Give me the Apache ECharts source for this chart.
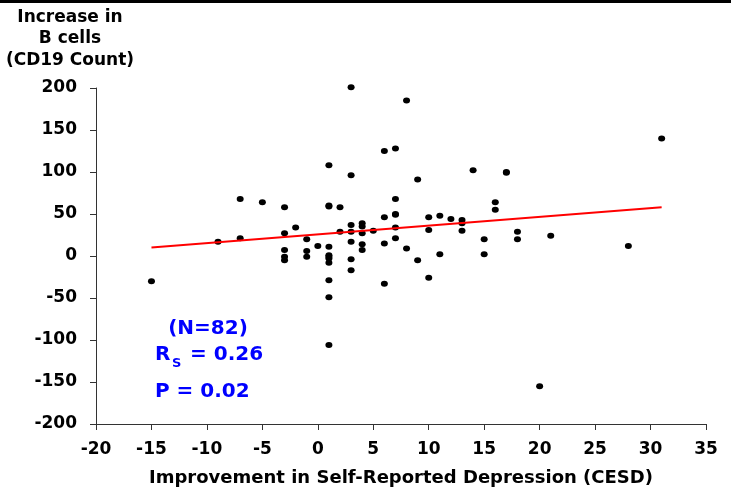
<!DOCTYPE html>
<html>
<head>
<meta charset="utf-8">
<script src="https://cdn.jsdelivr.net/npm/echarts@6/dist/echarts.min.js"></script>
<style>html,body{margin:0;padding:0;background:#fff}#c{width:731px;height:492px}</style>
</head>
<body>
<div id="c"></div>
<script>
// Improvement in CESD (x) and increase in CD19 count (y)
var cesdX = [-15,-9,-7,-7,-5,-3,-3,-3,-3,-3,-2,-1,-1,-1,0,1,1,1,1,1,1,1,1,1,1,1,2,2,3,3,3,3,3,3,3,4,4,4,4,4,5,6,6,6,6,7,7,7,7,7,7,8,8,9,9,10,10,10,11,11,12,13,13,13,14,15,15,16,16,17,17,18,18,20,21,28,31];
var cd19Y = [-30,17,68,21,64,58,27,7,-1,-5,34,20,6,-1,12,108,60,59,11,1,-3,-8,-29,-49,-106,-1,58,29,201,96,37,29,17,-4,-17,39,35,27,14,7,30,125,46,15,-33,128,68,49,50,34,21,185,9,91,-5,46,31,-26,48,2,44,43,39,30,102,20,2,64,55,99,100,29,20,-155,24,12,140];
var fitX = [-15, 31];
var fitY = [10, 58];
var xTicks = {min: -20, max: 35, interval: 5};
var yTicks = {min: -200, max: 200, interval: 50};
var yName = 'Increase in\nB cells\n(CD19 Count)';
var xName = 'Improvement in Self-Reported Depression (CESD)';
var statN = '(N=82)';
var statR = 'R';
var statRSub = 'S';
var statRVal = '= 0.26';
var statP = 'P = 0.02';

var points = cesdX.map(function (x, i) { return [x, cd19Y[i]]; });
var fitLine = fitX.map(function (x, i) { return [x, fitY[i]]; });
var FONT = 'DejaVu Sans';
var BLUE = '#0000ff';

var chart = echarts.init(document.getElementById('c'), null, {renderer: 'canvas'});
chart.setOption({
  backgroundColor: '#fff',
  animation: false,
  grid: {left: 96, right: 25, top: 88, bottom: 68},
  xAxis: {
    type: 'value', min: xTicks.min, max: xTicks.max, interval: xTicks.interval,
    name: xName, nameLocation: 'middle', nameGap: 45,
    nameTextStyle: {fontFamily: FONT, fontWeight: 'bold', fontSize: 18, color: '#000'},
    axisLine: {show: true, onZero: false, lineStyle: {color: '#333', width: 1}},
    axisTick: {show: true, inside: false, length: 6, lineStyle: {color: '#333'}},
    axisLabel: {fontFamily: FONT, fontWeight: 'bold', fontSize: 17, color: '#000', margin: 17},
    splitLine: {show: false}
  },
  yAxis: {
    type: 'value', min: yTicks.min, max: yTicks.max, interval: yTicks.interval,
    name: yName, nameLocation: 'end', nameGap: 17,
    nameTextStyle: {fontFamily: FONT, fontWeight: 'bold', fontSize: 17, color: '#000',
      lineHeight: 21.5, align: 'center', verticalAlign: 'bottom', padding: [0, 52, 0, 0]},
    axisLine: {show: true, onZero: false, lineStyle: {color: '#333', width: 1}},
    axisTick: {show: true, inside: false, length: 6, lineStyle: {color: '#333'}},
    axisLabel: {fontFamily: FONT, fontWeight: 'bold', fontSize: 17, color: '#000', margin: 19},
    splitLine: {show: false}
  },
  series: [
    {
      type: 'scatter', data: points, symbol: 'circle', symbolSize: [7, 6], clip: false,
      itemStyle: {color: '#000', opacity: 1}, z: 3
    },
    {
      type: 'line', data: fitLine, symbol: 'none', silent: true,
      lineStyle: {color: '#ff0000', width: 2}, z: 4
    }
  ],
  graphic: [
    {type: 'rect', left: 0, top: 0, shape: {width: 731, height: 3}, style: {fill: '#000'}},
    {type: 'text', x: 208, y: 329, style: {text: statN, fill: BLUE, font: 'bold 20px "DejaVu Sans"', textAlign: 'center', textVerticalAlign: 'middle'}},
    {type: 'text', x: 155, y: 355, style: {text: statR, fill: BLUE, font: 'bold 20px "DejaVu Sans"', textAlign: 'left', textVerticalAlign: 'middle'}},
    {type: 'text', x: 172, y: 364, style: {text: statRSub, fill: BLUE, font: 'bold 13px "DejaVu Sans"', textAlign: 'left', textVerticalAlign: 'middle'}},
    {type: 'text', x: 190, y: 355, style: {text: statRVal, fill: BLUE, font: 'bold 20px "DejaVu Sans"', textAlign: 'left', textVerticalAlign: 'middle'}},
    {type: 'text', x: 155, y: 392, style: {text: statP, fill: BLUE, font: 'bold 20px "DejaVu Sans"', textAlign: 'left', textVerticalAlign: 'middle'}}
  ]
});
</script>
</body>
</html>
